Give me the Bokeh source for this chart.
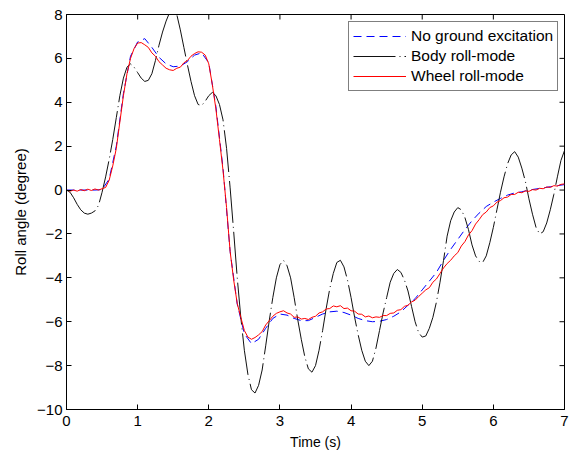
import math
from bokeh.plotting import figure
from bokeh.models import FixedTicker, Range1d
from bokeh.embed import file_html
from bokeh.resources import INLINE

# ---------------- data ----------------
t_nom = [0.0, 0.1, 0.2, 0.3, 0.4, 0.5, 0.6, 0.7, 0.8, 0.9,
         1.0, 1.1, 1.2, 1.3, 1.4, 1.5, 1.6, 1.7, 1.8, 1.9,
         2.0, 2.1, 2.2, 2.3, 2.4, 2.5, 2.6, 2.7, 2.8, 2.9,
         3.0, 3.1, 3.2, 3.3, 3.4, 3.5, 3.6, 3.7, 3.8, 3.9,
         4.0, 4.1, 4.2, 4.3, 4.4, 4.5, 4.6, 4.7, 4.8, 4.9,
         5.0, 5.1, 5.2, 5.3, 5.4, 5.5, 5.6, 5.7, 5.8, 5.9,
         6.0, 6.1, 6.2, 6.3, 6.4, 6.5, 6.6, 6.7, 6.8, 6.9, 7.0]
no_ground = [0.0, 0.0, 0.0, 0.0, 0.0, 0.02, 0.5, 2.0, 4.4, 6.1,
             6.75, 6.9, 6.5, 6.05, 5.75, 5.62, 5.65, 5.85, 6.15, 6.25,
             5.8, 3.8, 1.0, -2.8, -5.2, -6.55, -7.0, -6.8, -6.3, -5.85,
             -5.65, -5.7, -5.85, -5.95, -5.95, -5.8, -5.65, -5.55, -5.52, -5.58,
             -5.7, -5.85, -5.95, -6.0, -5.98, -5.9, -5.75, -5.55, -5.25, -4.95,
             -4.55, -4.15, -3.75, -3.2, -2.7, -2.25, -1.8, -1.4, -1.05, -0.75,
             -0.55, -0.38, -0.23, -0.13, -0.08, 0.0, 0.05, 0.1, 0.15, 0.2, 0.25]

t_fine = [round(i * 0.05, 2) for i in range(141)]
body_roll = [0.0, -0.1, -0.35, -0.65, -0.9, -1.05, -1.1, -1.05, -0.95, -0.7,
             -0.1, 0.6, 1.4, 2.3, 3.3, 4.3, 5.1, 5.6, 5.75, 5.6,
             5.35, 5.1, 4.95, 5.0, 5.3, 5.9, 6.6, 7.2, 7.7, 8.1,
             8.3, 8.0, 7.3, 6.5, 5.7, 4.95, 4.3, 3.9, 3.85, 4.05,
             4.3, 4.45, 4.3, 3.9, 3.2, 1.9, 0.1, -1.9, -4.0, -5.8,
             -7.3, -8.4, -9.1, -9.25, -8.9, -8.2, -7.1, -5.95, -4.9, -4.0,
             -3.4, -3.2, -3.45, -4.0, -4.9, -5.9, -6.8, -7.6, -8.15, -8.3,
             -8.0, -7.3, -6.4, -5.4, -4.5, -3.8, -3.3, -3.2, -3.5, -4.1,
             -4.9, -5.8, -6.6, -7.3, -7.8, -8.0, -7.8, -7.2, -6.4, -5.6,
             -4.9, -4.2, -3.8, -3.62, -3.75, -4.1, -4.6, -5.3, -6.0, -6.5,
             -6.7, -6.65, -6.3, -5.8, -5.1, -4.2, -3.2, -2.1, -1.4, -1.0,
             -0.8, -0.9, -1.25, -1.8, -2.5, -3.0, -3.25, -3.3, -3.0, -2.4,
             -1.7, -0.9, -0.1, 0.6, 1.2, 1.6, 1.75, 1.5, 1.0, 0.4,
             -0.4, -1.1, -1.7, -2.0, -1.9, -1.5, -0.9, -0.2, 0.6, 1.35, 1.8]
wheel_roll = [0.0, -0.05, 0.0, -0.05, 0.02, -0.03, 0.04, -0.02, 0.05, 0.0,
              0.06, 0.12, 0.45, 1.1, 1.9, 3.1, 4.3, 5.3, 6.0, 6.45,
              6.7, 6.72, 6.62, 6.5, 6.25, 6.1, 5.85, 5.7, 5.55, 5.48,
              5.45, 5.55, 5.6, 5.8, 5.9, 6.1, 6.22, 6.3, 6.28, 6.15,
              5.75, 4.8, 3.7, 2.3, 0.9, -0.8, -2.8, -4.1, -5.17, -5.8,
              -6.4, -6.7, -6.8, -6.72, -6.6, -6.45, -6.15, -5.95, -5.75, -5.62,
              -5.55, -5.5, -5.6, -5.65, -5.8, -5.78, -5.88, -5.85, -5.9, -5.8,
              -5.75, -5.6, -5.55, -5.42, -5.4, -5.28, -5.32, -5.27, -5.4, -5.38,
              -5.5, -5.52, -5.65, -5.66, -5.78, -5.74, -5.82, -5.78, -5.8, -5.72,
              -5.72, -5.62, -5.6, -5.48, -5.45, -5.3, -5.25, -5.1, -5.02, -4.85,
              -4.7, -4.55, -4.45, -4.2, -4.05, -3.8, -3.55, -3.35, -3.2, -3.0,
              -2.85, -2.55, -2.35, -2.05, -1.85, -1.55, -1.35, -1.12, -1.0, -0.8,
              -0.72, -0.55, -0.48, -0.35, -0.32, -0.2, -0.2, -0.1, -0.12, -0.04,
              -0.06, 0.02, 0.0, 0.08, 0.06, 0.14, 0.12, 0.2, 0.18, 0.26, 0.28]

x_ticks = [0, 1, 2, 3, 4, 5, 6, 7]
y_ticks = [-10, -8, -6, -4, -2, 0, 2, 4, 6, 8]
x_min, x_max = 0, 7
y_min, y_max = -10, 8

FONT = "Liberation Sans"

p = figure(width=576, height=457, output_backend="svg", toolbar_location=None,
           x_range=Range1d(x_min, x_max), y_range=Range1d(y_min, y_max),
           min_border_left=66, min_border_right=12, min_border_top=14, min_border_bottom=48)
p.background_fill_color = "white"
p.border_fill_color = "white"
p.outline_line_color = "black"
p.outline_line_width = 1
p.xgrid.visible = False
p.ygrid.visible = False

p.line(t_nom, no_ground, color="blue", line_width=1, line_dash="8 5",
       legend_label="No ground excitation")
p.line(t_fine, body_roll, color="#111111", line_width=1, line_dash="42 4 1 4",
       legend_label="Body roll-mode")
p.line(t_fine, wheel_roll, color="red", line_width=1,
       legend_label="Wheel roll-mode")

# box ticks on the top and right edges (MATLAB "box on"), 5 px long
p.ray(x=x_ticks, y=[y_max] * len(x_ticks), length=5, length_units="screen",
      angle=-math.pi / 2, color="black", line_width=1)
p.ray(x=[x_max] * len(y_ticks), y=y_ticks, length=5, length_units="screen",
      angle=math.pi, color="black", line_width=1)

for ax in (p.xaxis[0], p.yaxis[0]):
    ax.major_tick_in = 5
    ax.major_tick_out = 0
    ax.minor_tick_in = 0
    ax.minor_tick_out = 0
    ax.axis_line_color = "black"
    ax.axis_line_width = 1
    ax.major_tick_line_color = "black"
    ax.major_label_text_font = FONT
    ax.major_label_text_font_size = "15px"
    ax.major_label_text_color = "black"
    ax.axis_label_text_font = FONT
    ax.axis_label_text_font_style = "normal"
    ax.axis_label_text_color = "black"

p.xaxis[0].ticker = FixedTicker(ticks=x_ticks)
p.yaxis[0].ticker = FixedTicker(ticks=y_ticks)
p.xaxis[0].axis_label = "Time (s)"
p.yaxis[0].axis_label = "Roll angle (degree)"
p.xaxis[0].axis_label_text_font_size = "14px"
p.yaxis[0].axis_label_text_font_size = "15px"
p.xaxis[0].major_label_standoff = 6
p.yaxis[0].major_label_standoff = 4
p.xaxis[0].axis_label_standoff = 5
p.yaxis[0].axis_label_standoff = 5

lg = p.legend[0]
lg.location = (282, 318)
lg.margin = 0
lg.padding = 4
lg.spacing = 0
lg.glyph_width = 53
lg.glyph_height = 20
lg.label_height = 20
lg.label_standoff = 5
lg.label_text_font = FONT
lg.label_text_font_size = "15.5px"
lg.label_text_color = "black"
lg.border_line_color = "black"
lg.border_line_width = 1
lg.background_fill_alpha = 1

open("out.html", "w").write(file_html(p, INLINE))
